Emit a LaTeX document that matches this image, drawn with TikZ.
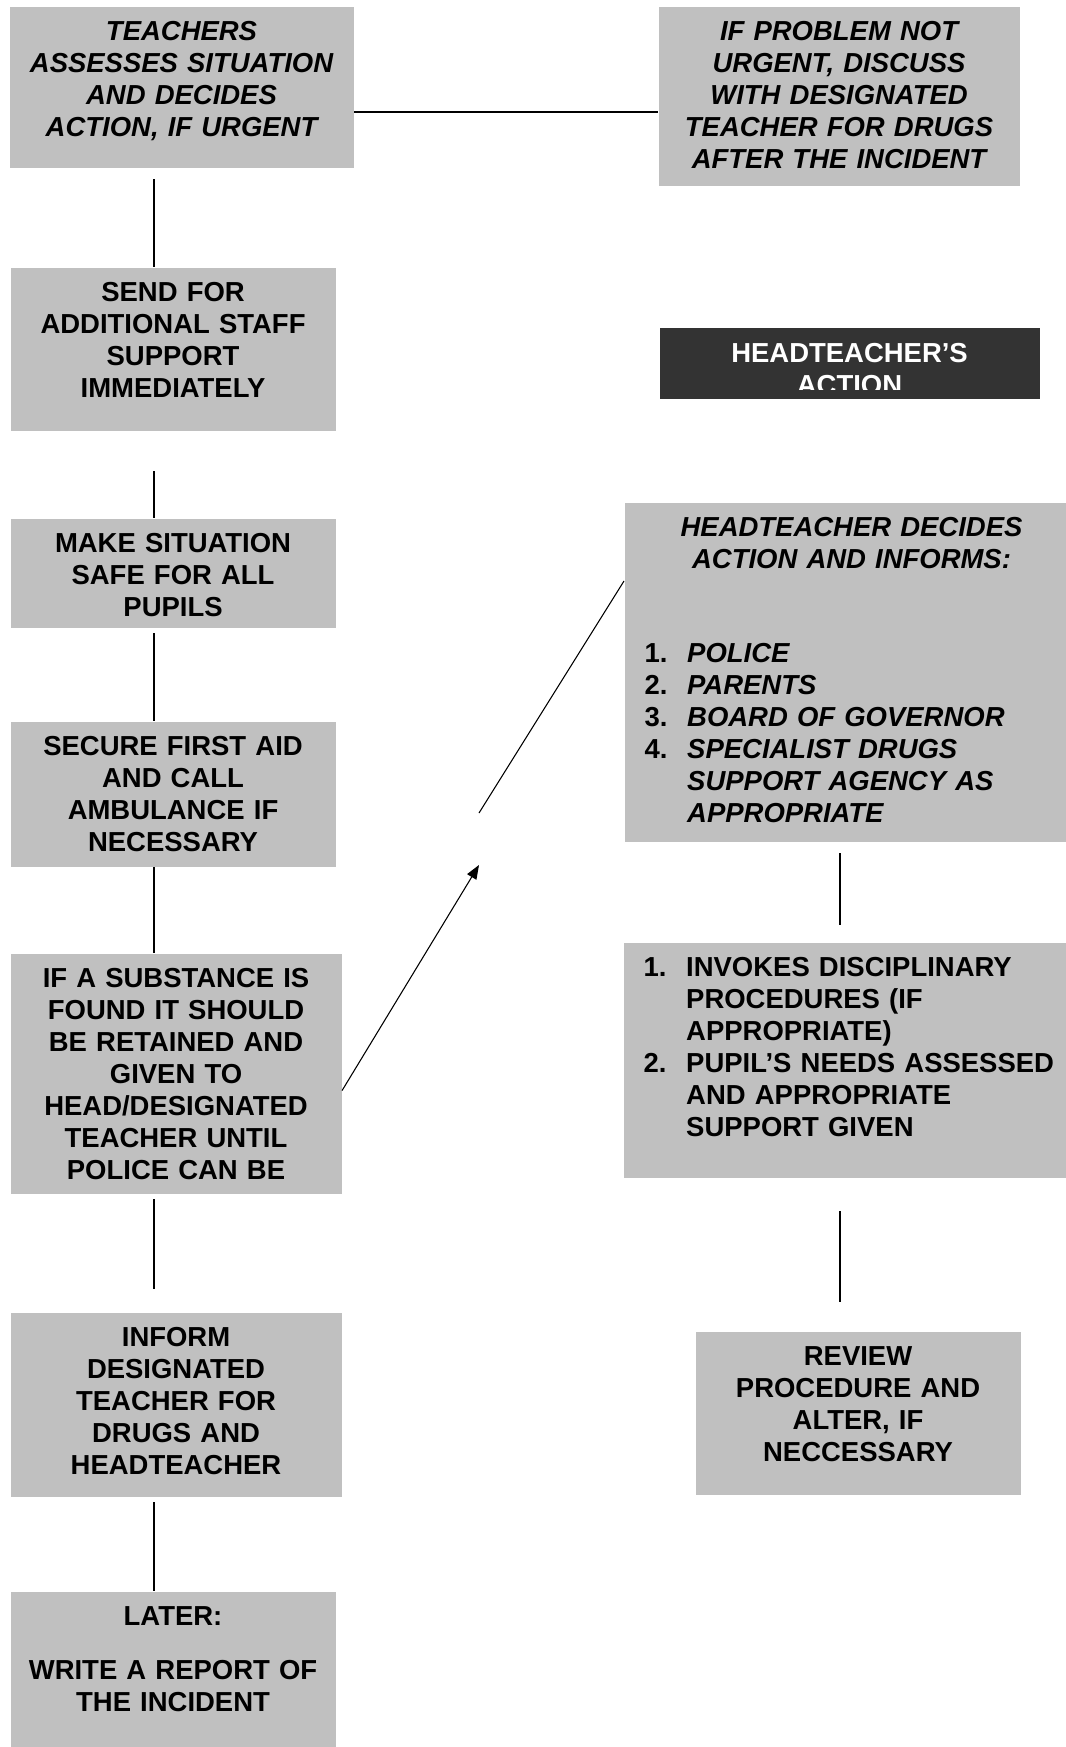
\documentclass[tikz,border=0pt]{standalone}
\usepackage{fontspec}
\setmainfont{Liberation Sans}
\usepackage{tikz}
\usetikzlibrary{arrows.meta}

\definecolor{boxgray}{HTML}{C0C0C0}
\definecolor{darkgray}{HTML}{333333}
\newcommand{\boxfont}{\fontsize{20.6}{24}\selectfont\bfseries}
\newcommand{\numitem}[2]{\hangindent=32pt\hangafter=1\makebox[32pt][l]{#1}#2\par}

\begin{document}
\begin{tikzpicture}[x=0.75pt,y=-0.75pt,line width=0.8pt,
	>={Triangle[length=10.5pt,width=8pt]}]
	\tikzstyle{box}=[fill=boxgray,draw=none,anchor=north west,inner sep=0pt,
		text height=25.5pt,align=center,font=\boxfont]
	\tikzstyle{listbox}=[box,align=left]
	\tikzstyle{darkbox}=[fill=darkgray,draw=none,anchor=north west,inner sep=0pt,
		minimum width=285pt,minimum height=53.25pt]
	
	\useasboundingbox (0,0) rectangle (1066,1747);
	
	\node[box,text width=258pt,text depth=95.25pt]      (teach)  at (9,6)     {\itshape TEACHERS\\ASSESSES SITUATION\\AND DECIDES\\ACTION, IF URGENT};
	\node[box,text width=270.75pt,text depth=108.75pt]  (notur)  at (658,6)   {\itshape IF PROBLEM NOT\\URGENT, DISCUSS\\WITH DESIGNATED\\TEACHER FOR DRUGS\\AFTER THE INCIDENT};
	\node[box,text width=243.75pt,text depth=96.75pt]   (send)   at (10,267)  {SEND FOR\\ADDITIONAL STAFF\\SUPPORT\\IMMEDIATELY};
	\node[box,text width=243.75pt,text depth=56.25pt]   (safe)   at (10,518)  {MAKE SITUATION\\SAFE FOR ALL\\PUPILS};
	\node[box,text width=243.75pt,text depth=83.25pt]   (aid)    at (10,721)  {SECURE FIRST AID\\AND CALL\\AMBULANCE IF\\NECESSARY};
	\node[box,text width=248.25pt,text depth=154.5pt]   (subst)  at (10,953)  {IF A SUBSTANCE IS\\FOUND IT SHOULD\\BE RETAINED AND\\GIVEN TO\\HEAD/DESIGNATED\\TEACHER UNTIL\\POLICE CAN BE};
	\node[box,text width=248.25pt,text depth=112.5pt]   (inform) at (10,1312) {INFORM\\DESIGNATED\\TEACHER FOR\\DRUGS AND\\HEADTEACHER};
	\node[box,text width=243.75pt,text depth=91.5pt]    (later)  at (10,1591) {LATER:\\[16.5pt]WRITE A REPORT OF\\THE INCIDENT};
	
	\node[darkbox,path picture={
		\clip (path picture bounding box.north west) rectangle ([yshift=6.75pt]path picture bounding box.south east);
		\node[white,font=\boxfont,text width=285pt,align=center,anchor=base,inner sep=0pt]
			at ([yshift=-25.9pt]path picture bounding box.north) {HEADTEACHER’S\\ACTION};
	}] (hact) at (659,327) {};
	
	\node[listbox,text width=340.5pt,text depth=228.75pt] (decide) at (624,502) {%
		{\centering\itshape HEADTEACHER DECIDES\\ACTION AND INFORMS:\par}
		\vspace{46.5pt}\leftskip=15pt
		\numitem{1.}{\textit{POLICE}}
		\numitem{2.}{\textit{PARENTS}}
		\numitem{3.}{\textit{BOARD OF GOVERNOR}}
		\numitem{4.}{\textit{SPECIALIST DRUGS\newline SUPPORT AGENCY AS\newline APPROPRIATE}}};
	\node[listbox,text width=340.5pt,text depth=150.75pt] (invoke) at (623,942) {%
		\leftskip=15pt
		\numitem{1.}{INVOKES DISCIPLINARY\newline PROCEDURES (IF\newline APPROPRIATE)}
		\numitem{2.}{PUPIL’S NEEDS ASSESSED\newline AND APPROPRIATE\newline SUPPORT GIVEN}};
	\node[box,text width=243.75pt,text depth=96.75pt]   (review) at (695,1331) {REVIEW\\PROCEDURE AND\\ALTER, IF\\NECCESSARY};
	
	\coordinate (spine)  at (154,0);
	\coordinate (rspine) at (840,0);
	\coordinate (hl)     at ([yshift=-79.5pt]teach.north east);
	\coordinate (tip)    at (479,865);
	\coordinate (tail)   at (479,813);
	
	\draw[line width=1.5pt] (hl) -- (hl -| notur.west);
	\draw[shorten <=8.25pt] (teach.south -| spine) -- (send.north -| spine);
	\draw[shorten <=30pt] (send.south -| spine) -- (safe.north -| spine);
	\draw[shorten <=3.75pt] (safe.south -| spine) -- (aid.north -| spine);
	\draw (aid.south -| spine) -- (subst.north -| spine);
	\draw[shorten <=3.75pt,shorten >=17.25pt] (subst.south -| spine) -- (inform.north -| spine);
	\draw[shorten <=3.75pt] (inform.south -| spine) -- (later.north -| spine);
	\draw[->] ([yshift=-12.75pt]subst.east) -- (tip);
	\draw (tail) -- ([yshift=-59.25pt]decide.north west);
	\draw[shorten <=8.25pt,shorten >=12.75pt] (decide.south -| rspine) -- (invoke.north -| rspine);
	\draw[shorten <=24.75pt,shorten >=21.75pt] (invoke.south -| rspine) -- (review.north -| rspine);
	
\end{tikzpicture}
\end{document}
